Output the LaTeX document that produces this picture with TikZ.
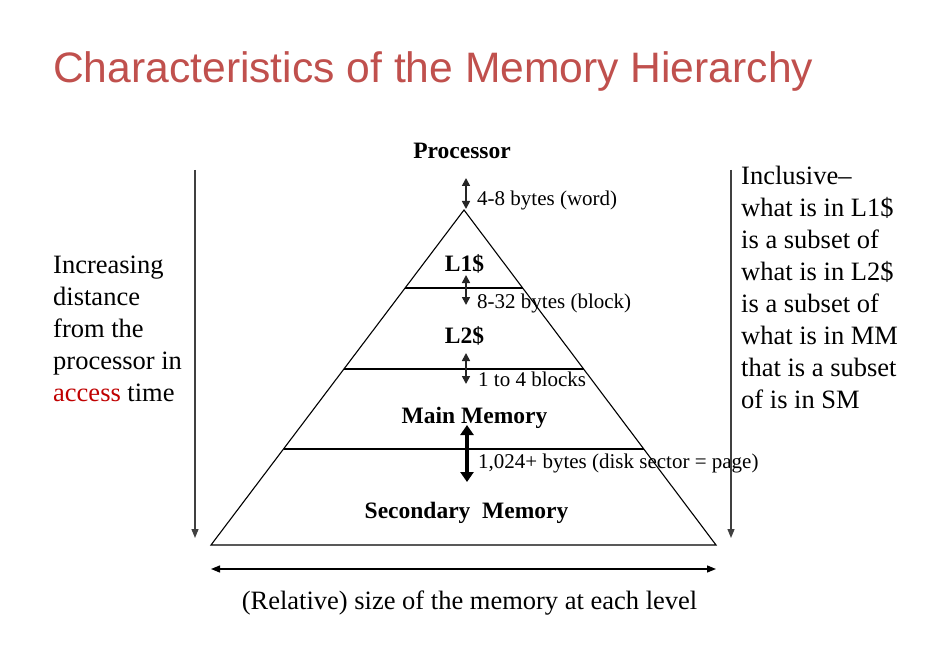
\documentclass[tikz,border=0pt]{standalone}
\usepackage{fontspec}
\setmainfont{Liberation Serif}
\newfontfamily\titlefont{Liberation Sans}
\usetikzlibrary{arrows.meta,calc}
\definecolor{titlered}{HTML}{C0504D}
\definecolor{accred}{HTML}{C00000}
\definecolor{arrgray}{HTML}{404040}
\begin{document}
\begin{tikzpicture}[x=1pt,y=-1pt,
  tri/.style={line width=1.1pt, draw=black},
  smallarr/.style={line width=1.6pt, draw=black!85, {Triangle[width=8pt,length=8pt]}-{Triangle[width=8pt,length=8pt]}},
  bigarr/.style={line width=4.5pt, {Triangle[width=13pt,length=10pt]}-{Triangle[width=13pt,length=10pt]}},
  longarr/.style={line width=1.3pt, draw=arrgray, -{Triangle[width=7pt,length=9pt]}},
  sizearr/.style={line width=1.3pt, draw=black, {Triangle[width=7pt,length=9pt]}-{Triangle[width=7pt,length=9pt]}},
  lbl/.style={inner sep=0pt, anchor=base west, font=\fontsize{21}{25}\selectfont},
  lvl/.style={inner sep=0pt, anchor=base, font=\fontsize{23.5}{28}\selectfont\bfseries},
  side/.style={inner sep=0pt, anchor=base west, font=\fontsize{26.5}{32}\selectfont}
]
\useasboundingbox (0,0) rectangle (928,668);
\fill[white] (0,0) rectangle (928,668);

% title
\node[inner sep=0pt, anchor=base west, font=\titlefont\fontsize{42.6}{50}\selectfont, text=titlered] (title) at (53,83) {Characteristics of the Memory Hierarchy};

% pyramid
\coordinate (apex) at (464,210);
\coordinate (bl) at (211,545);
\coordinate (br) at (716,545);
\draw[tri] (apex) -- (bl) -- (br) -- cycle;
\coordinate (l1a) at ($(apex)!0.2328!(bl)$);
\coordinate (l1b) at ($(apex)!0.2328!(br)$);
\coordinate (l2a) at ($(apex)!0.4746!(bl)$);
\coordinate (l2b) at ($(apex)!0.4746!(br)$);
\coordinate (mma) at ($(apex)!0.7134!(bl)$);
\coordinate (mmb) at ($(apex)!0.7134!(br)$);
\draw[tri] (l1a) -- (l1b);
\draw[tri] (l2a) -- (l2b);
\draw[tri] (mma) -- (mmb);

% level labels
\node[lvl] (proc) at (462,159) {Processor};
\node[lvl] (l1) at (464.5,271) {L1\$};
\node[lvl] (l2) at (464.5,343) {L2\$};
\node[lvl] (mm) at (474.5,423) {Main Memory};
\node[lvl] (sm) at (466.5,518) {Secondary\ \ Memory};

% transfer arrows
\coordinate (a1t) at (466,178); \coordinate (a1b) at (466,209);
\coordinate (a2t) at (466,275); \coordinate (a2b) at (466,305);
\coordinate (a3t) at (466,353); \coordinate (a3b) at (466,384);
\coordinate (a4t) at (467,425); \coordinate (a4b) at (467,482);
\draw[smallarr] (a1t) -- (a1b);
\draw[smallarr] (a2t) -- (a2b);
\draw[smallarr] (a3t) -- (a3b);
\draw[bigarr] (a4t) -- (a4b);

% transfer labels
\node[lbl] (t1) at (477,206) {4-8 bytes (word)};
\node[lbl] (t2) at (477,308) {8-32 bytes (block)};
\node[lbl] (t3) at (478,386) {1 to 4 blocks};
\node[lbl] (t4) at (478,468) {1,024+ bytes (disk sector = page)};

% side arrows
\coordinate (lt) at (195,170); \coordinate (lb) at (195,538);
\coordinate (rt) at (731,170); \coordinate (rb) at (731,538);
\draw[longarr] (lt) -- (lb);
\draw[longarr] (rt) -- (rb);
\coordinate (sl) at (211,569); \coordinate (sr) at (716,569);
\draw[sizearr] (sl) -- (sr);

% side texts
\node[side] (dist) at (53,273) {\vtop{\hbox{Increasing}\hbox{distance}\hbox{from the}\hbox{processor in}\hbox{\textcolor{accred}{access} time}}};
\node[side] (incl) at (741,185) {\vtop{\hbox{Inclusive--}\hbox{what is in L1\$}\hbox{is a subset of}\hbox{what is in L2\$}\hbox{is a subset of}\hbox{what is in MM}\hbox{that is a subset}\hbox{of is in SM}}};
\node[side, anchor=base] (size) at (469.5,609) {(Relative) size of the memory at each level};
\end{tikzpicture}
\end{document}
